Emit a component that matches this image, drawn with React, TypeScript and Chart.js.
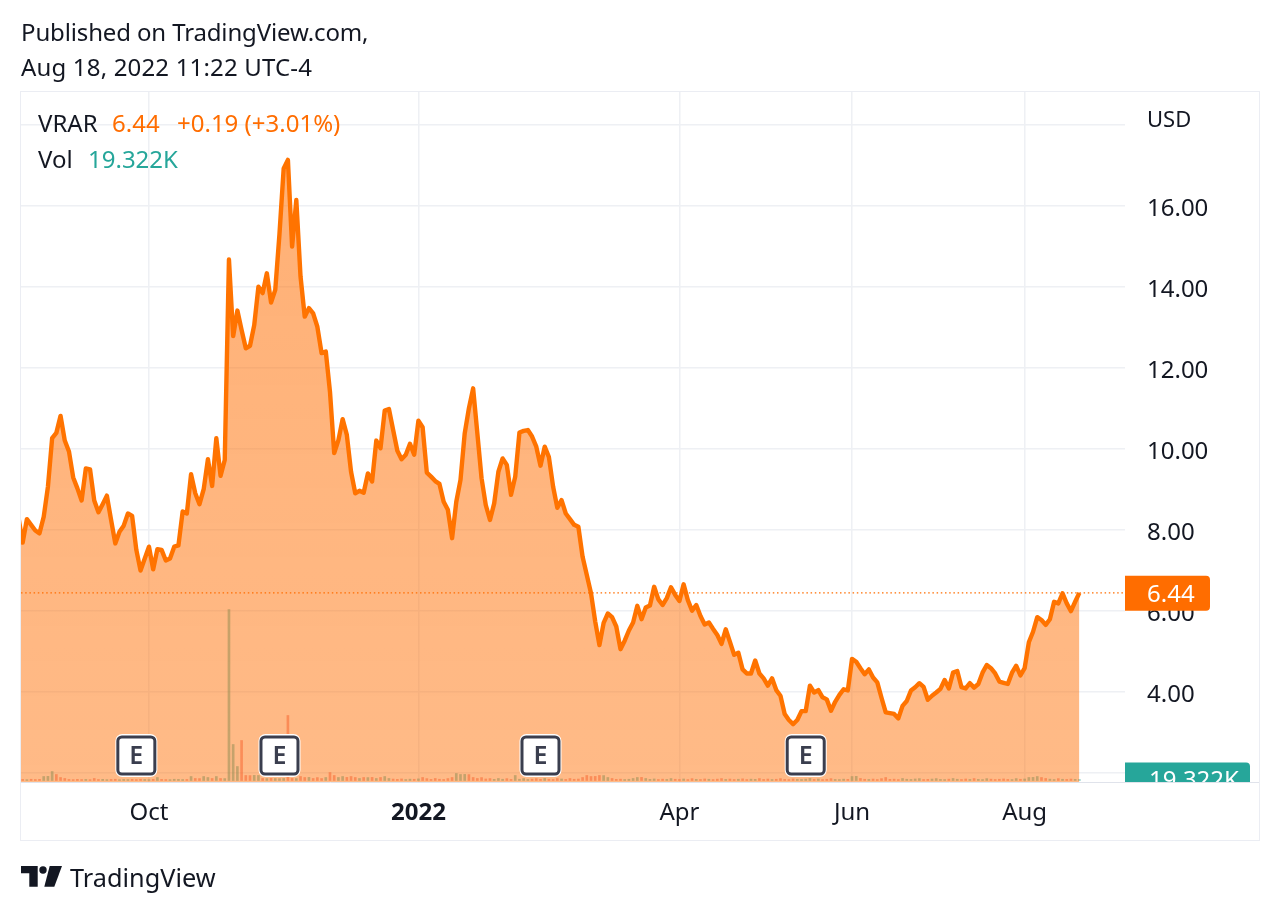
import React, { useEffect, useRef } from "react";
import { Chart, registerables } from "chart.js";

Chart.register(...registerables);

const closes: number[] = [
  8.3, 7.68, 8.26, 8.12, 7.98, 7.91, 8.32, 9.06, 10.26, 10.39,
  10.81, 10.2, 9.93, 9.29, 9.02, 8.72, 9.51, 9.49, 8.72, 8.43,
  8.63, 8.84, 8.24, 7.66, 7.95, 8.1, 8.4, 8.34, 7.5, 6.99,
  7.29, 7.58, 7.02, 7.52, 7.5, 7.24, 7.29, 7.58, 7.61, 8.45,
  8.4, 9.37, 8.9, 8.63, 9.0, 9.74, 9.08, 10.26, 9.33, 9.72,
  14.67, 12.78, 13.41, 12.93, 12.48, 12.54, 13.05, 14.0, 13.84, 14.33,
  13.61, 13.92, 15.3, 16.92, 17.13, 14.99, 16.14, 14.25, 13.26, 13.47,
  13.34, 13.01, 12.36, 12.4, 11.4, 9.89, 10.21, 10.73, 10.34, 9.43,
  8.9, 8.96, 8.91, 9.39, 9.19, 10.2, 10.01, 10.94, 10.98, 10.46,
  9.95, 9.74, 9.85, 10.12, 9.85, 10.69, 10.53, 9.41, 9.31, 9.2,
  9.13, 8.69, 8.49, 7.79, 8.69, 9.23, 10.38, 11.0, 11.49, 10.38,
  9.27, 8.61, 8.24, 8.65, 9.43, 9.76, 9.6, 8.86, 9.31, 10.4,
  10.44, 10.46, 10.3, 10.05, 9.58, 10.05, 9.79, 9.06, 8.54, 8.73,
  8.4, 8.26, 8.12, 8.07, 7.33, 6.88, 6.43, 5.73, 5.15, 5.7,
  5.93, 5.84, 5.61, 5.05, 5.26, 5.51, 5.71, 6.12, 5.79, 6.08,
  6.13, 6.59, 6.28, 6.14, 6.31, 6.58, 6.39, 6.24, 6.65, 6.26,
  6.0, 6.14, 5.87, 5.66, 5.71, 5.55, 5.4, 5.18, 5.54, 5.23,
  4.91, 4.96, 4.55, 4.45, 4.45, 4.77, 4.45, 4.33, 4.15, 4.33,
  4.04, 3.9, 3.45, 3.3, 3.2, 3.3, 3.52, 3.52, 4.15, 3.98,
  4.04, 3.86, 3.81, 3.53, 3.75, 3.92, 4.06, 4.03, 4.81, 4.74,
  4.58, 4.43, 4.55, 4.35, 4.23, 3.85, 3.49, 3.47, 3.45, 3.34,
  3.65, 3.77, 4.03, 4.11, 4.21, 4.12, 3.8, 3.9, 3.98, 4.07,
  4.29, 4.08, 4.47, 4.51, 4.11, 4.08, 4.21, 4.1, 4.19, 4.47,
  4.66, 4.58, 4.45, 4.25, 4.22, 4.19, 4.47, 4.64, 4.4, 4.58,
  5.22, 5.48, 5.84, 5.77, 5.65, 5.79, 6.22, 6.18, 6.43, 6.18,
  5.99, 6.22, 6.44,
];

// thousands of shares
const volumes: number[] = [
  18, 21, 16, 24, 19, 22, 77, 80, 174, 116,
  58, 39, 20, 17, 22, 18, 21, 16, 39, 19,
  23, 17, 20, 24, 16, 21, 19, 22, 18, 24,
  20, 17, 23, 58, 21, 18, 16, 24, 22, 19,
  20, 77, 39, 37, 77, 58, 39, 77, 39, 37,
  3300, 695, 270, 772, 97, 95, 99, 97, 39, 37,
  41, 38, 36, 39, 1255, 40, 37, 77, 58, 60,
  39, 56, 38, 58, 154, 97, 58, 77, 60, 77,
  58, 39, 58, 56, 60, 39, 58, 77, 39, 28,
  22, 30, 19, 26, 24, 31, 58, 36, 21, 39,
  24, 20, 37, 58, 135, 116, 118, 114, 58, 39,
  56, 29, 37, 22, 39, 24, 36, 21, 97, 24,
  38, 20, 26, 36, 22, 39, 24, 20, 37, 29,
  21, 38, 24, 28, 58, 97, 77, 79, 97, 95,
  58, 39, 22, 26, 19, 24, 39, 58, 60, 39,
  22, 30, 19, 26, 21, 38, 24, 20, 29, 18,
  36, 22, 19, 30, 24, 18, 26, 37, 21, 28,
  19, 24, 32, 18, 26, 22, 37, 20, 28, 19,
  24, 36, 21, 18, 29, 22, 19, 26, 39, 21,
  28, 18, 24, 36, 20, 19, 26, 22, 77, 80,
  39, 24, 21, 28, 19, 36, 58, 22, 26, 18,
  39, 24, 20, 29, 36, 19, 22, 28, 37, 21,
  18, 26, 39, 24, 19, 29, 21, 38, 22, 18,
  36, 26, 19, 24, 30, 21, 18, 37, 24, 29,
  58, 60, 77, 58, 39, 26, 19, 36, 24, 21,
  28, 22, 19.322,
];

// Volume bars whose colour differs from the day-on-day price move.
const volumeColorFlips: number[] = [9, 10, 51, 55, 64, 107, 108, 199];

const priceTicks: number[] = [2, 4, 6, 8, 10, 12, 14, 16, 18];
const hiddenPriceLabels: number[] = [2, 18];
const timeTickDays: number[] = [31, 95, 157, 198, 239];
const timeTickLabels: string[] = ["Oct", "2022", "Apr", "Jun", "Aug"];
const earningsDays: number[] = [28, 62, 124, 187];

const FONT = '"Noto Sans", sans-serif';
const INK = "#131722";
const ORANGE = "#FF6D00";
const LINE = "#FF7300";
const TEAL = "#26A69A";
const GRID = "#EEF0F4";
const lastPrice = closes[closes.length - 1];
const lastVolume = volumes[volumes.length - 1];

const overlay = {
  id: "overlay",
  beforeDraw(chart: any) {
    const { ctx } = chart;
    ctx.save();
    ctx.strokeStyle = "#EBEDF3";
    ctx.lineWidth = 1;
    ctx.strokeRect(20.5, 91.5, 1239, 749);
    ctx.restore();
  },
  afterDatasetsDraw(chart: any) {
    const { ctx, chartArea, scales } = chart;
    const py = scales.y.getPixelForValue(lastPrice);
    ctx.save();
    ctx.strokeStyle = ORANGE;
    ctx.lineWidth = 1.2;
    ctx.setLineDash([1.5, 2.7]);
    ctx.beginPath();
    ctx.moveTo(chartArea.left, py);
    ctx.lineTo(chartArea.right, py);
    ctx.stroke();
    ctx.restore();

    earningsDays.forEach((day) => {
      const cx = scales.x.getPixelForValue(day);
      const cy = 755.5;
      ctx.save();
      ctx.fillStyle = "#FFFFFF";
      ctx.beginPath();
      ctx.roundRect(cx - 21, cy - 21.5, 42, 43, 7);
      ctx.fill();
      ctx.strokeStyle = "#3A3E4E";
      ctx.lineWidth = 3;
      ctx.beginPath();
      ctx.roundRect(cx - 18.5, cy - 18.5, 37, 37, 4);
      ctx.stroke();
      ctx.fillStyle = "#3A3E4E";
      ctx.font = `600 25px ${FONT}`;
      ctx.textAlign = "center";
      ctx.textBaseline = "middle";
      ctx.fillText("E", cx, cy + 1.5);
      ctx.restore();
    });
  },
  afterDraw(chart: any) {
    const { ctx, scales } = chart;
    const py = scales.y.getPixelForValue(lastPrice);
    const vy = scales.vol.getPixelForValue(lastVolume);
    ctx.save();
    ctx.textBaseline = "middle";
    ctx.textAlign = "left";
    ctx.font = `24px ${FONT}`;

    ctx.fillStyle = ORANGE;
    ctx.beginPath();
    ctx.roundRect(1125, py - 17, 85, 35, [0, 4, 4, 0]);
    ctx.fill();
    ctx.fillStyle = "#FFFFFF";
    ctx.fillText(lastPrice.toFixed(2), 1147, py + 2);

    ctx.save();
    ctx.beginPath();
    ctx.rect(1125, 755, 135, 27);
    ctx.clip();
    ctx.fillStyle = TEAL;
    ctx.beginPath();
    ctx.roundRect(1125, vy - 17, 125, 36, [0, 4, 4, 0]);
    ctx.fill();
    ctx.fillStyle = "#FFFFFF";
    ctx.fillText(`${lastVolume.toFixed(3)}K`, 1149, vy + 2);
    ctx.restore();

    ctx.strokeStyle = "#E0E3EB";
    ctx.lineWidth = 1;
    ctx.beginPath();
    ctx.moveTo(21, 782.5);
    ctx.lineTo(1259, 782.5);
    ctx.stroke();
    ctx.restore();
  },
};

function Label(props: { x: number; y: number; size?: number; color?: string; spacing?: number; text: string }) {
  const size = props.size ?? 24;
  return (
    <span
      style={{
        position: "absolute",
        left: props.x,
        top: props.y - size,
        height: size * 2,
        lineHeight: `${size * 2}px`,
        fontSize: size,
        fontFamily: FONT,
        color: props.color ?? INK,
        letterSpacing: props.spacing ?? 0,
        whiteSpace: "nowrap",
      }}
    >
      {props.text}
    </span>
  );
}

export default function App() {
  const ref = useRef<HTMLCanvasElement>(null);

  useEffect(() => {
    const chart = new Chart(ref.current as HTMLCanvasElement, {
      type: "line",
      data: {
        datasets: [
          {
            type: "line",
            label: "VRAR",
            data: closes.map((y, x) => ({ x, y })),
            borderColor: LINE,
            borderWidth: 4.4,
            borderJoinStyle: "round",
            pointRadius: 0,
            tension: 0,
            fill: "start",
            clip: 0,
            order: 1,
            yAxisID: "y",
            backgroundColor: (c: any) => {
              const area = c.chart.chartArea;
              if (!area) return "rgba(255,109,0,0.5)";
              const g = c.chart.ctx.createLinearGradient(0, 160, 0, area.bottom);
              g.addColorStop(0, "rgba(255,109,0,0.54)");
              g.addColorStop(1, "rgba(255,109,0,0.47)");
              return g;
            },
          },
          {
            type: "bar",
            label: "Vol",
            data: volumes.map((y, x) => ({ x, y })),
            barThickness: 2,
            order: 2,
            yAxisID: "vol",
            backgroundColor: volumes.map((_, i) => {
              const up = i === 0 || closes[i] >= closes[i - 1];
              const flipped = volumeColorFlips.includes(i);
              return up !== flipped ? "rgba(38,166,154,0.5)" : "rgba(239,83,80,0.5)";
            }),
          },
        ],
      } as any,
      options: {
        animation: false,
        responsive: false,
        devicePixelRatio: 1,
        layout: { padding: { left: 21, right: 21, top: 92, bottom: 74 } },
        plugins: { legend: { display: false }, tooltip: { enabled: false } },
        scales: {
          x: {
            type: "linear",
            offset: false,
            min: 0.603,
            max: 262.84,
            afterBuildTicks: (s: any) => {
              s.ticks = timeTickDays.map((value) => ({ value }));
            },
            afterFit: (s: any) => {
              s.height = 58;
            },
            grid: { color: GRID, lineWidth: 1.5, drawTicks: false, offset: false },
            border: { display: false },
            ticks: {
              autoSkip: false,
              maxRotation: 0,
              padding: 17,
              color: INK,
              font: (c: any) => ({
                family: FONT,
                size: 24,
                weight: c.tick && c.tick.value === timeTickDays[1] ? "bold" : "normal",
              }),
              callback: (v: any) => timeTickLabels[timeTickDays.indexOf(v)],
            },
          },
          y: {
            position: "right",
            min: 1.77,
            max: 18.807,
            afterBuildTicks: (s: any) => {
              s.ticks = priceTicks.map((value) => ({ value }));
            },
            afterFit: (s: any) => {
              s.width = 134;
            },
            grid: { color: GRID, lineWidth: 1.5, drawTicks: false },
            border: { display: false },
            ticks: {
              autoSkip: false,
              padding: 22,
              crossAlign: "near",
              color: INK,
              font: { family: FONT, size: 24, lineHeight: "6px" },
              callback: (v: any) => (hiddenPriceLabels.includes(v) ? "" : ["", Number(v).toFixed(2)]),
            },
          },
          vol: {
            display: false,
            min: -29,
            max: 13288,
          },
        },
      } as any,
      plugins: [overlay],
    });
    return () => chart.destroy();
  }, []);

  return (
    <div style={{ position: "absolute", left: 0, top: 0, width: 1280, height: 914, overflow: "hidden", background: "#fff" }}>
      <canvas ref={ref} width={1280} height={914} style={{ display: "block" }} />
      <Label x={21} y={32} spacing={-0.14} text="Published on TradingView.com," />
      <Label x={21} y={67} spacing={0.17} text="Aug 18, 2022 11:22 UTC-4" />
      <Label x={38} y={123} text="VRAR" />
      <Label x={112} y={123} color={ORANGE} text="6.44" />
      <Label x={177} y={123} color={ORANGE} text="+0.19 (+3.01%)" />
      <Label x={38} y={159} text="Vol" />
      <Label x={88} y={159} color={TEAL} text="19.322K" />
      <Label x={1147} y={118} size={22} text="USD" />
      <svg style={{ position: "absolute", left: 20.7, top: 866 }} width={42} height={21} viewBox="0 0 42 21">
        <path d="M0 0H16.7V20.7H8.3V7.3H0Z" fill={INK} />
        <circle cx={22} cy={4} r={3.7} fill={INK} />
        <path d="M28.7 0H41L33.3 20.7H23.3Z" fill={INK} />
      </svg>
      <Label x={70} y={877.5} size={25.3} text="TradingView" />
    </div>
  );
}
